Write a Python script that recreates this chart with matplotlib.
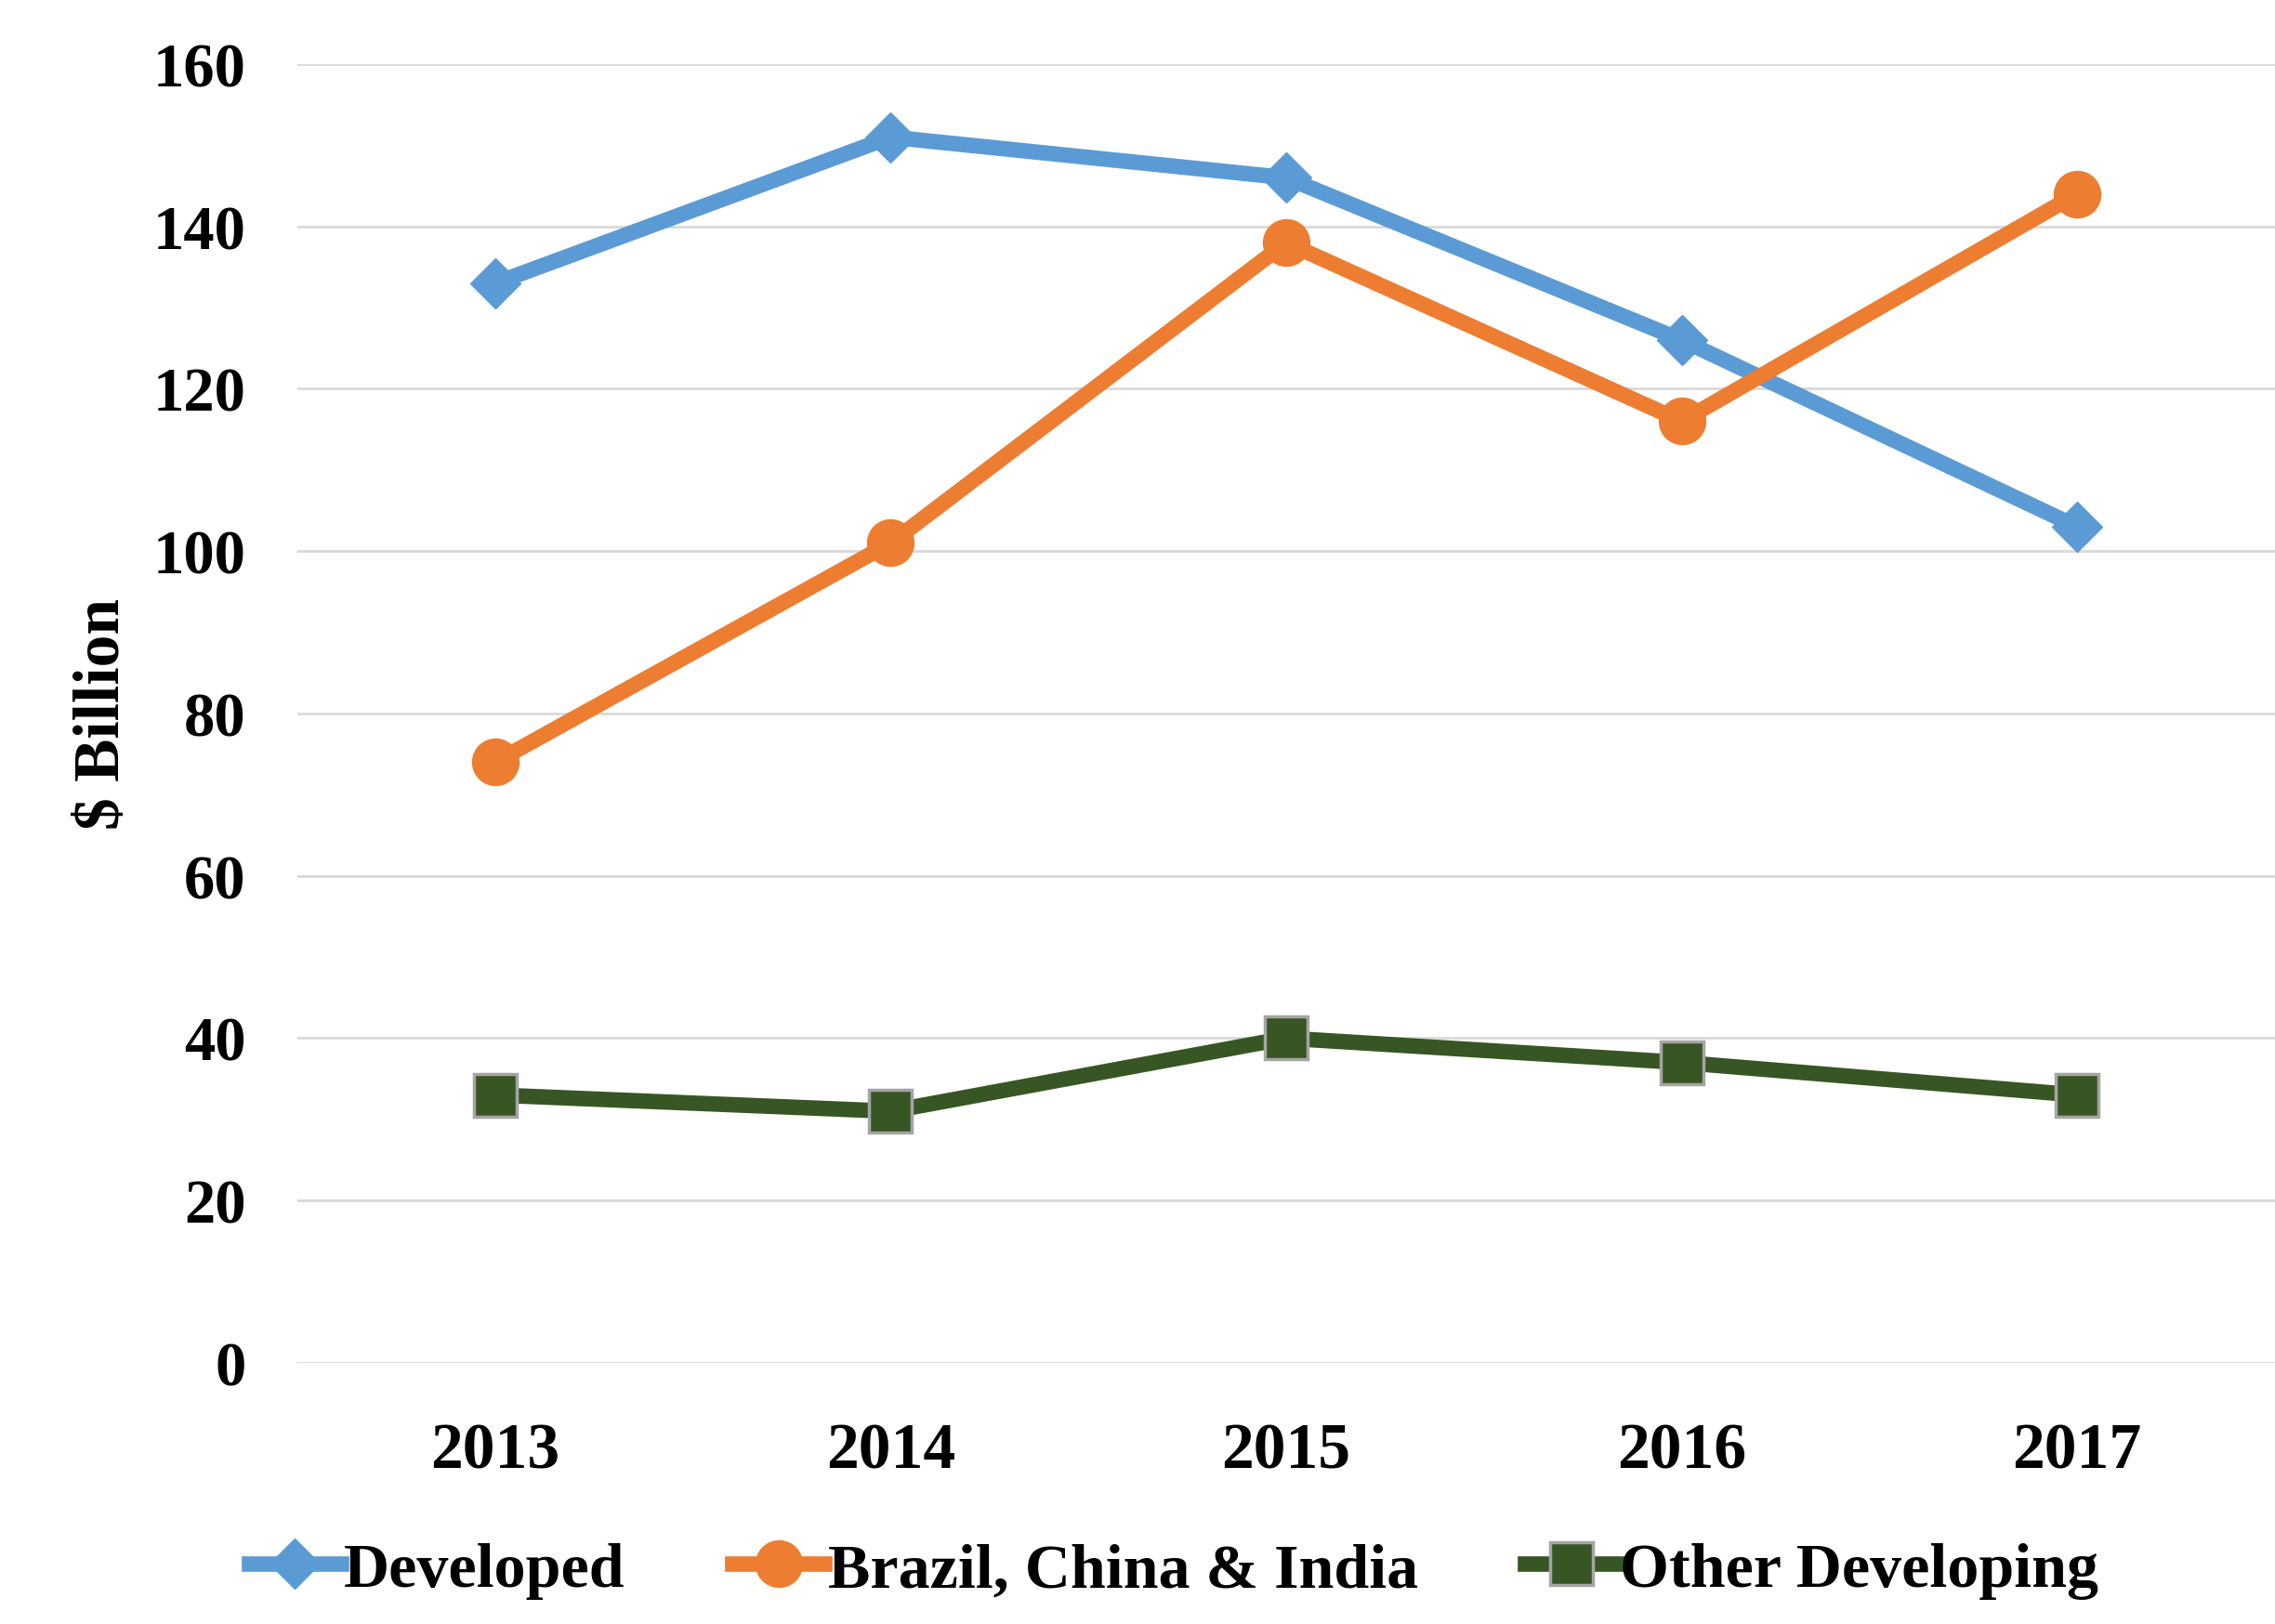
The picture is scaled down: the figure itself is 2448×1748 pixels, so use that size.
import matplotlib.pyplot as plt

years = ["2013", "2014", "2015", "2016", "2017"]
developed = [133, 151, 146, 126, 103]
bci = [74, 101, 138, 116, 144]
other_dev = [33, 31, 40, 37, 33]
yticks = [0, 20, 40, 60, 80, 100, 120, 140, 160]

plt.rcParams['font.family'] = ['Liberation Serif', 'DejaVu Serif']
plt.rcParams['font.weight'] = 'bold'

fig = plt.figure(figsize=(24.48, 17.49), dpi=100)
ax = fig.add_axes([0.1307, 0.1607, 0.8693, 0.7993])

x = range(len(years))
ax.plot(x, developed, color="#5B9BD5", lw=12, marker="D", ms=28,
        label="Developed", zorder=3)
ax.plot(x, bci, color="#ED7D31", lw=12, marker="o", ms=36,
        label="Brazil, China & India", zorder=3)
ax.plot(x, other_dev, color="#375623", lw=12, marker="s", ms=33,
        markeredgecolor="#A5A5A5", markeredgewidth=2.5,
        label="Other Developing", zorder=3)

ax.set_xlim(-0.5, len(years) - 0.5)
ax.set_ylim(0, 160)
ax.set_xticks(list(x))
ax.set_xticklabels(years)
ax.set_yticks(yticks)
ax.grid(axis="y", color="#D9D9D9", lw=2)
ax.set_axisbelow(True)
for s in ax.spines.values():
    s.set_visible(False)
ax.tick_params(axis="y", length=0, labelsize=48, pad=40)
ax.tick_params(axis="x", length=0, labelsize=50, pad=46)

ax.set_ylabel("$ Billion", fontsize=50, fontweight="bold")
ax.yaxis.set_label_coords(-0.083, 0.5)

fig.legend(loc="center", bbox_to_anchor=(0.516, 0.033), ncol=3,
           frameon=False, fontsize=49, handlelength=1.45,
           handletextpad=0.05, columnspacing=1.7)

fig.savefig("out.png", dpi=100, facecolor="white")
